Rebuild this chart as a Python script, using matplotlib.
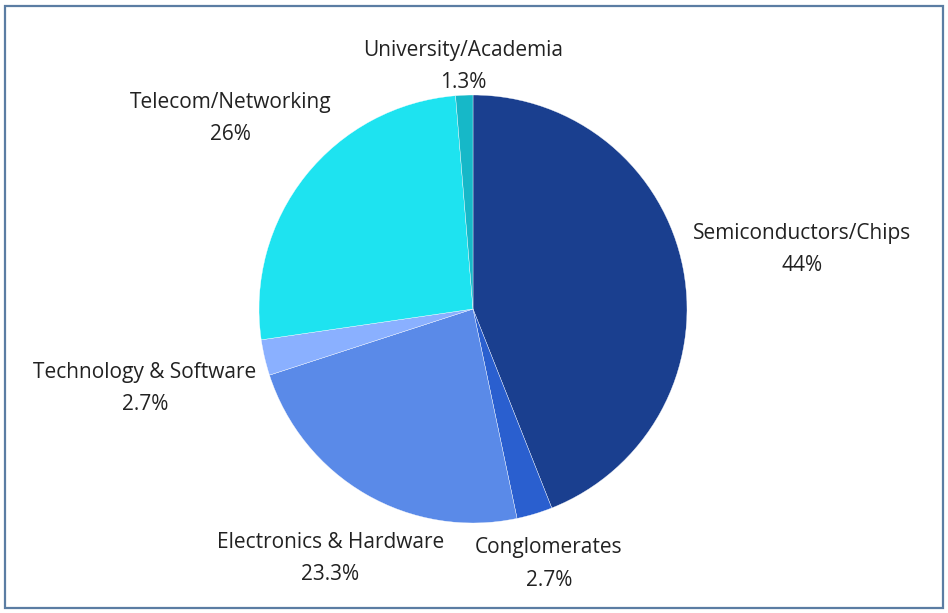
import numpy as np
import matplotlib

matplotlib.use("Agg")
import matplotlib.pyplot as plt
from matplotlib.patches import Rectangle

# data, clockwise from 12 o'clock
CATEGORIES = [
    "Semiconductors/Chips",
    "Conglomerates",
    "Electronics & Hardware",
    "Technology & Software",
    "Telecom/Networking",
    "University/Academia",
]
SHARES = [44.0, 2.7, 23.3, 2.7, 26.0, 1.3]
SHARE_LABELS = ["44%", "2.7%", "23.3%", "2.7%", "26%", "1.3%"]

COLORS = ["#1a3f8f", "#2a5fcf", "#5a8ae8", "#8ab0ff", "#1ee3f0", "#16b8c8"]
LABEL_DIST = [1.565, 1.23, 1.33, 1.575, 1.45, 1.15]

W, H = 948, 613
fig = plt.figure(figsize=(W / 100, H / 100), dpi=100)
ax = fig.add_axes([0, 0, 1, 1])

cx, cy, r = 473, H - 309, 214
wedges, _ = ax.pie(
    SHARES,
    colors=COLORS,
    startangle=90,
    counterclock=False,
    center=(cx, cy),
    radius=r,
    frame=True,
    wedgeprops=dict(edgecolor="white", linewidth=0.25),
)
ax.set_xlim(0, W)
ax.set_ylim(0, H)
ax.set_aspect("equal")
ax.axis("off")

for w, cat, lab, d in zip(wedges, CATEGORIES, SHARE_LABELS, LABEL_DIST):
    ang = np.deg2rad((w.theta1 + w.theta2) / 2)
    x = cx + d * r * np.cos(ang)
    y = cy + d * r * np.sin(ang) - 3
    ax.text(x, y, f"{cat}\n{lab}", ha="center", va="center",
            fontsize=15, family=["Open Sans", "DejaVu Sans"],
            color="#222222", linespacing=1.7)

# frame around the chart
ax.add_patch(Rectangle((5, 5), W - 10, H - 11, fill=False,
                       edgecolor="#5b7da3", linewidth=1.6))

fig.savefig("out.png", dpi=100)
